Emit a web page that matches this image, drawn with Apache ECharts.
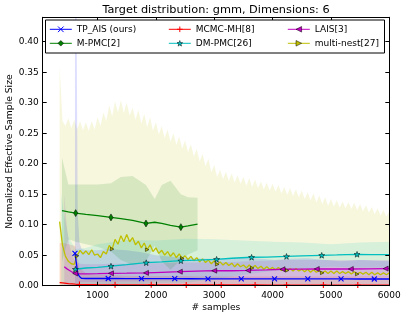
<!DOCTYPE html>
<html><head><meta charset="utf-8">
<script src="https://cdn.jsdelivr.net/npm/echarts@6/dist/echarts.min.js"></script>
<style>html,body{margin:0;padding:0;background:#fff}#c{width:407px;height:317px}</style>
</head><body><div id="c"></div>
<script>
const TITLE = 'Target distribution: gmm, Dimensions: 6';
const xTicks = [1000, 2000, 3000, 4000, 5000, 6000];
const yTicks = [0, 0.05, 0.10, 0.15, 0.20, 0.25, 0.30, 0.35, 0.40];

// TP_AIS (ours)
const tpX = [613, 640, 660, 690, 728, 800, 1000, 1183, 1500, 1753, 2000, 2323, 2600, 2893, 3200, 3463, 3800, 4033, 4300, 4603, 4900, 5173, 5500, 5743, 6000];
const tpY = [0.053, 0.035, 0.020, 0.015, 0.012, 0.0118, 0.0118, 0.0118, 0.0117, 0.0116, 0.0115, 0.0115, 0.0114, 0.0113, 0.0113, 0.0113, 0.0112, 0.0112, 0.0112, 0.0112, 0.0111, 0.0111, 0.011, 0.011, 0.011];
const tpLo = [0, 0, 0, 0, 0, 0, 0, 0, 0, 0, 0, 0, 0, 0, 0, 0, 0, 0, 0, 0, 0, 0, 0, 0, 0];
const tpHi = [0.6, 0.45, 0.12, 0.07, 0.06, 0.058, 0.058, 0.06, 0.058, 0.055, 0.05, 0.047, 0.045, 0.044, 0.045, 0.046, 0.044, 0.042, 0.044, 0.045, 0.042, 0.04, 0.042, 0.041, 0.04];
const tpMarks = [613, 1183, 1753, 2323, 2893, 3463, 4033, 4603, 5173, 5743];

// MCMC-MH[8]
const mhX = [350, 400, 500, 620, 690, 800, 1000, 1300, 1600, 1920, 2200, 2520, 2800, 3120, 3400, 3700, 4000, 4240, 4550, 4870, 5150, 5460, 5750, 6000];
const mhY = [0.005, 0.0045, 0.0035, 0.0025, 0.002, 0.0018, 0.0016, 0.0015, 0.0014, 0.0014, 0.0013, 0.0013, 0.0012, 0.0012, 0.0012, 0.0012, 0.0011, 0.0011, 0.0011, 0.0011, 0.001, 0.001, 0.001, 0.001];
const mhLo = [0, 0, 0, 0, 0, 0, 0, 0, 0, 0, 0, 0, 0, 0, 0, 0, 0, 0, 0, 0, 0, 0, 0, 0];
const mhHi = [0.07, 0.07, 0.068, 0.065, 0.03, 0.02, 0.018, 0.017, 0.016, 0.016, 0.016, 0.016, 0.015, 0.015, 0.015, 0.015, 0.015, 0.015, 0.015, 0.015, 0.015, 0.015, 0.015, 0.015];
const mhMarks = [690, 1300, 1920, 2520, 3120, 3700, 4240, 4870, 5460];

// LAIS[3]
const laX = [430, 470, 520, 570, 618, 700, 800, 1000, 1230, 1500, 1830, 2100, 2410, 2700, 3000, 3300, 3580, 3900, 4170, 4450, 4757, 5050, 5340, 5650, 5938, 6000];
const laY = [0.031, 0.028, 0.025, 0.022, 0.020, 0.0195, 0.0195, 0.0198, 0.0203, 0.0205, 0.021, 0.022, 0.023, 0.024, 0.0246, 0.0245, 0.025, 0.026, 0.027, 0.0272, 0.0274, 0.0274, 0.0274, 0.0277, 0.028, 0.028];
const laHi = [0.15, 0.1, 0.065, 0.048, 0.04, 0.036, 0.035, 0.035, 0.036, 0.036, 0.037, 0.037, 0.038, 0.038, 0.039, 0.039, 0.04, 0.041, 0.042, 0.042, 0.042, 0.042, 0.042, 0.042, 0.042, 0.042];
const laLo = [0.0, 0.0, 0.0, 0.002, 0.005, 0.006, 0.006, 0.006, 0.007, 0.007, 0.007, 0.008, 0.009, 0.01, 0.011, 0.011, 0.011, 0.012, 0.013, 0.013, 0.013, 0.013, 0.013, 0.014, 0.014, 0.014];
const laMarks = [618, 1230, 1830, 2410, 3000, 3580, 4170, 4757, 5340, 5938];

// M-PMC[2]
const mpX = [390, 500, 625, 800, 1000, 1230, 1400, 1600, 1830, 1980, 2100, 2250, 2428, 2550, 2714];
const mpY = [0.123, 0.121, 0.119, 0.117, 0.115, 0.112, 0.110, 0.107, 0.102, 0.104, 0.102, 0.099, 0.096, 0.098, 0.101];
const mpHi = [0.21, 0.166, 0.166, 0.166, 0.166, 0.168, 0.178, 0.18, 0.165, 0.142, 0.165, 0.172, 0.15, 0.145, 0.144];
const mpLo = [0.04, 0.076, 0.072, 0.068, 0.064, 0.056, 0.042, 0.034, 0.04, 0.066, 0.04, 0.026, 0.042, 0.051, 0.058];
const mpMarks = [625, 1230, 1830, 2428];

// DM-PMC[26]
const dmX = [620, 800, 1000, 1230, 1500, 1834, 2100, 2428, 2700, 3040, 3300, 3640, 3900, 4238, 4500, 4842, 5100, 5447, 5700, 6000];
const dmY = [0.027, 0.029, 0.030, 0.032, 0.0345, 0.0377, 0.039, 0.041, 0.042, 0.0433, 0.045, 0.0466, 0.047, 0.048, 0.049, 0.0498, 0.0505, 0.0515, 0.051, 0.051];
const dmMarks = [620, 1230, 1834, 2428, 3040, 3640, 4238, 4842, 5447];
const dmBX = [380, 420, 500, 620, 800, 1000, 1500, 2000, 2500, 3000, 3500, 4000, 4500, 5000, 5500, 6000];
const dmHi = [0.15, 0.12, 0.08, 0.06, 0.062, 0.068, 0.075, 0.074, 0.077, 0.076, 0.074, 0.072, 0.071, 0.068, 0.071, 0.072];
const dmLo = [0.0, 0.0, 0.0, 0.0, 0.0, 0.0, 0.0, 0.005, 0.005, 0.01, 0.018, 0.024, 0.028, 0.031, 0.03, 0.03];

// multi-nest[27]
const mnX = [350,400,450,500,550,600,650,700,750,800,
  850,900,950,1000,1050,1100,1150,1200,1250,1300,
  1350,1400,1450,1500,1550,1600,1650,1700,1750,1800,
  1850,1900,1950,2000,2050,2100,2150,2200,2250,2300,
  2350,2400,2450,2500,2550,2600,2650,2700,2750,2800,
  2850,2900,2950,3000,3050,3100,3150,3200,3250,3300,
  3350,3400,3450,3500,3550,3600,3650,3700,3750,3800,
  3850,3900,3950,4000,4050,4100,4150,4200,4250,4300,
  4350,4400,4450,4500,4550,4600,4650,4700,4750,4800,
  4850,4900,4950,5000,5050,5100,5150,5200,5250,5300,
  5350,5400,5450,5500,5550,5600,5650,5700,5750,5800,
  5850,5900,5950,6000];
const mnY = [0.105,0.066,0.048,0.040,0.036,0.035,0.049,0.058,0.052,0.057,
  0.051,0.059,0.050,0.052,0.046,0.056,0.052,0.066,0.060,0.076,
  0.068,0.082,0.072,0.084,0.072,0.079,0.067,0.073,0.062,0.070,
  0.059,0.067,0.056,0.062,0.053,0.058,0.050,0.056,0.048,0.054,
  0.046,0.052,0.045,0.049,0.043,0.048,0.041,0.046,0.039,0.044,
  0.038,0.042,0.036,0.041,0.035,0.039,0.034,0.038,0.033,0.037,
  0.031,0.036,0.031,0.034,0.029,0.034,0.029,0.033,0.028,0.032,
  0.027,0.031,0.027,0.030,0.026,0.030,0.025,0.029,0.025,0.028,
  0.024,0.028,0.024,0.027,0.023,0.027,0.022,0.026,0.022,0.025,
  0.021,0.024,0.020,0.024,0.020,0.024,0.020,0.023,0.020,0.023,
  0.019,0.023,0.019,0.022,0.019,0.022,0.018,0.022,0.018,0.021,
  0.018,0.021,0.018,0.021];
const mnLo = mnX.map(() => 0);
const mnHi = [0.36,0.27,0.262,0.275,0.258,0.272,0.256,0.27,0.255,0.268,
  0.254,0.27,0.256,0.276,0.262,0.284,0.27,0.296,0.278,0.302,
  0.284,0.304,0.283,0.3,0.279,0.292,0.272,0.288,0.266,0.282,
  0.26,0.276,0.254,0.268,0.248,0.262,0.242,0.256,0.236,0.25,
  0.231,0.244,0.225,0.238,0.219,0.232,0.212,0.224,0.204,0.216,
  0.196,0.208,0.186,0.198,0.178,0.19,0.175,0.187,0.172,0.184,
  0.169,0.181,0.167,0.178,0.164,0.176,0.162,0.174,0.16,0.171,
  0.158,0.169,0.156,0.167,0.154,0.165,0.151,0.162,0.149,0.16,
  0.147,0.158,0.145,0.156,0.142,0.153,0.14,0.151,0.137,0.148,
  0.134,0.145,0.131,0.142,0.13,0.14,0.128,0.138,0.127,0.137,
  0.126,0.136,0.124,0.134,0.122,0.132,0.12,0.129,0.117,0.127,
  0.115,0.124,0.113,0.122];
const mnMarks = [650, 1250, 1850, 2450, 3050, 3650, 4250, 4850, 5450];

const FONT = 'DejaVu Sans';
const C = {b:'#0000ff', r:'#ff0000', m:'#bf00bf', g:'#008000', c:'#00bfbf', y:'#bfbf00'};
const F = {b:'rgba(0,0,255,0.13)', r:'rgba(255,0,0,0.13)', m:'rgba(191,0,191,0.13)',
           g:'rgba(0,128,0,0.13)', c:'rgba(0,191,191,0.13)', y:'rgba(191,191,0,0.13)'};
const SYM = {
  x: 'path://M0,0L10,10M10,0L0,10',
  plus: 'path://M5,0L5,10M0,5L10,5',
  left: 'path://M0,5L10,0L10,10Z',
  right: 'path://M10,5L0,0L0,10Z',
  diamond: 'path://M3,0L6,5L3,10L0,5Z',
  star: 'path://M5,0L6.2,3.4L9.8,3.5L7,5.7L7.9,9.2L5,7.2L2.1,9.2L3,5.7L0.2,3.5L3.8,3.4Z'
};

function pairs(xs, ys) { return xs.map((x, i) => [x, ys[i]]); }

function lineSeries(name, xs, ys, color, symbol, size, marks, filled) {
  return {
    name, type: 'line', data: pairs(xs, ys), z: 5,
    symbol, symbolKeepAspect: true, showSymbol: true, showAllSymbol: true,
    symbolSize: v => (marks.indexOf(v[0]) >= 0 ? size : 0),
    lineStyle: { color, width: 1.3 },
    itemStyle: filled ? { color, borderColor: '#000', borderWidth: 0.5 }
                      : { color, borderColor: color, borderWidth: 1.1 },
    emphasis: { disabled: true }, silent: true
  };
}
// shaded band between lo and hi, drawn as one polygon through the axes' scales
function band(name, xs, lo, hi, fill) {
  return {
    name, type: 'custom', z: 1, silent: true, clip: true,
    data: xs.map((x, i) => [x, lo[i], hi[i]]),
    encode: { x: 0, y: [1, 2] },
    renderItem: function (params, api) {
      if (params.dataIndexInside !== 0) return null;
      const n = params.dataInsideLength;
      const top = [], bot = [];
      for (let i = 0; i < n; i++) {
        top.push(api.coord([api.value(0, i), api.value(2, i)]));
        bot.unshift(api.coord([api.value(0, i), api.value(1, i)]));
      }
      return { type: 'polygon', shape: { points: top.concat(bot) }, style: { fill } };
    }
  };
}

const series = [
  band('mn_band', mnX, mnLo, mnHi, F.y),
  band('tp_band', tpX, tpLo, tpHi, F.b),
  band('mh_band', mhX, mhLo, mhHi, F.r),
  band('la_band', laX, laLo, laHi, F.m),
  band('mp_band', mpX, mpLo, mpHi, F.g),
  band('dm_band', dmBX, dmLo, dmHi, F.c),
  lineSeries('multi-nest[27]', mnX, mnY, C.y, SYM.right, 3.5, mnMarks, true),
  lineSeries('M-PMC[2]', mpX, mpY, C.g, SYM.diamond, 7, mpMarks, true),
  lineSeries('DM-PMC[26]', dmX, dmY, C.c, SYM.star, 6, dmMarks, true),
  lineSeries('LAIS[3]', laX, laY, C.m, SYM.left, 5, laMarks, true),
  lineSeries('MCMC-MH[8]', mhX, mhY, C.r, SYM.plus, 6, mhMarks, false),
  lineSeries('TP_AIS (ours)', tpX, tpY, C.b, SYM.x, 5, tpMarks, false)
];

function legendCol(left, items) {
  return {
    left, top: 24.3, orient: 'vertical', padding: 0, itemWidth: 22, itemHeight: 7, itemGap: 4,
    selectedMode: false, z: 60,
    itemStyle: { borderColor: '#000', borderWidth: 0.5 },
    lineStyle: { width: 1 },
    textStyle: { fontFamily: FONT, fontSize: 9, color: '#000', lineHeight: 10 },
    data: items
  };
}
const strokeItem = (name, color) => ({ name, itemStyle: { borderColor: color, borderWidth: 1 } });

const axisBase = {
  type: 'value', z: 10,
  axisLine: { show: true, onZero: false, lineStyle: { color: '#000', width: 1 } },
  splitLine: { show: false }
};

const chart = echarts.init(document.getElementById('c'), null, { renderer: 'canvas' });
chart.setOption({
  animation: false,
  backgroundColor: '#fff',
  textStyle: { fontFamily: FONT },
  grid: { left: 42.7, right: 17.7, top: 17.3, bottom: 31.3, outerBoundsMode: 'none' },
  xAxis: [
    Object.assign({}, axisBase, {
      position: 'bottom', min: 60, max: 6000,
      name: '# samples', nameLocation: 'middle', nameGap: 17, nameMoveOverlap: false,
      nameTextStyle: { fontFamily: FONT, fontSize: 9.2, color: '#000' },
      axisTick: { inside: true, length: 4, customValues: xTicks, lineStyle: { color: '#000' } },
      axisLabel: { customValues: xTicks, fontFamily: FONT, fontSize: 9, color: '#000', margin: 5,
        formatter: v => String(v) }
    }),
    Object.assign({}, axisBase, {
      position: 'top', min: 60, max: 6000,
      axisTick: { inside: true, length: 4, customValues: xTicks, lineStyle: { color: '#000' } },
      axisLabel: { show: false }
    })
  ],
  yAxis: [
    Object.assign({}, axisBase, {
      position: 'left', min: 0, max: 0.44,
      name: 'Normalized Effective Sample Size', nameLocation: 'middle', nameGap: 29, nameMoveOverlap: false,
      nameTextStyle: { fontFamily: FONT, fontSize: 9.2, color: '#000' },
      axisTick: { inside: true, length: 4, customValues: yTicks, lineStyle: { color: '#000' } },
      axisLabel: { customValues: yTicks, fontFamily: FONT, fontSize: 9, color: '#000', margin: 4,
        formatter: v => v.toFixed(2) }
    }),
    Object.assign({}, axisBase, {
      position: 'right', min: 0, max: 0.44,
      axisTick: { inside: true, length: 4, customValues: yTicks, lineStyle: { color: '#000' } },
      axisLabel: { show: false }
    })
  ],
  legend: [
    legendCol(49.3, [strokeItem('TP_AIS (ours)', C.b), 'M-PMC[2]']),
    legendCol(168.3, [strokeItem('MCMC-MH[8]', C.r), 'DM-PMC[26]']),
    legendCol(287.3, ['LAIS[3]', 'multi-nest[27]'])
  ],
  graphic: [
    { type: 'rect', z: 50, shape: { x: 45.5, y: 20, width: 339, height: 33 },
      style: { fill: '#fff', stroke: '#000', lineWidth: 1 } },
    { type: 'text', z: 50, x: 216, y: 10.3,
      style: { text: TITLE, fontFamily: FONT, fontSize: 11.3, fill: '#000', align: 'center', verticalAlign: 'middle' } }
  ],
  series
});
</script>
</body></html>
